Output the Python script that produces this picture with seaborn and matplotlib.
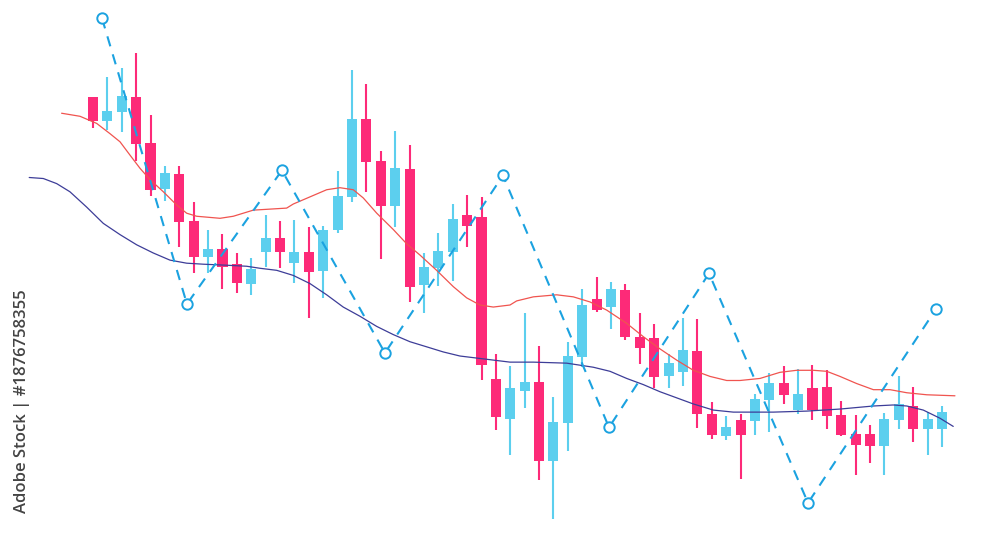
import numpy as np
import pandas as pd
import matplotlib
matplotlib.use("Agg")
import matplotlib.pyplot as plt
import seaborn as sns

# candle data (60 sessions)
opens = [505, 481, 490, 505, 460, 415, 429, 383, 348, 356, 341, 322, 353, 367, 342,
         353, 334, 375, 407, 483, 442, 398, 434, 321, 337, 353, 389, 387, 228, 189,
         217, 226, 148, 185, 250, 307, 299, 316, 270, 269, 231, 235, 256, 194, 173,
         188, 187, 208, 225, 198, 220, 221, 193, 175, 175, 163, 188, 202, 179, 179]
highs = [505, 525, 533, 548, 487, 437, 437, 402, 375, 371, 352, 347, 389, 383, 384,
         377, 378, 432, 531, 518, 452, 472, 458, 352, 372, 400, 409, 407, 253, 241,
         293, 261, 211, 265, 317, 328, 324, 322, 293, 282, 253, 288, 287, 206, 192,
         194, 214, 234, 241, 238, 242, 237, 207, 193, 183, 195, 231, 221, 196, 202]
lows = [475, 473, 471, 442, 408, 403, 358, 332, 332, 317, 313, 311, 338, 337, 323,
        288, 308, 372, 402, 412, 346, 377, 304, 293, 320, 325, 358, 227, 178, 154,
        200, 129, 91, 158, 240, 294, 277, 267, 243, 220, 220, 222, 180, 170, 169,
        130, 174, 177, 204, 194, 188, 179, 173, 134, 146, 134, 179, 167, 154, 162]
closes = [481, 491, 506, 459, 414, 430, 382, 348, 356, 338, 323, 336, 367, 353, 353,
          333, 375, 408, 483, 441, 398, 435, 319, 338, 354, 385, 378, 242, 191, 220,
          226, 148, 186, 251, 301, 296, 317, 270, 259, 230, 244, 257, 194, 174, 181,
          174, 209, 225, 213, 214, 198, 192, 174, 164, 163, 189, 204, 179, 189, 196]

# fast moving average (red)
ma_fast_x = [-2.18, -0.90, 0.26, 1.18, 1.88, 2.57, 3.27, 3.96, 4.89, 5.82, 6.51, 7.21,
             8.83, 9.75, 11.14, 12.30, 13.46, 13.92, 15.08, 16.24, 17.16, 18.09, 18.78,
             19.72, 20.87, 21.80, 22.72, 23.88, 25.04, 25.97, 26.89, 27.82, 28.98,
             29.44, 30.60, 32.22, 33.38, 34.54, 35.70, 37.09, 38.24, 39.40, 40.56,
             41.72, 42.88, 44.04, 44.96, 46.35, 47.74, 48.90, 50.06, 50.99, 51.91,
             53.07, 54.23, 55.39, 56.55, 57.94, 59.90]
ma_fast_y = [489, 486, 479, 469, 461, 448, 435, 424, 412, 399, 391, 388,
             386, 388, 394, 395, 396, 400, 407, 414, 416, 414, 406,
             391, 375, 361, 350, 335, 319, 308, 301, 299, 301,
             305, 309, 311, 309, 304, 296, 283, 270, 258, 247,
             237, 231, 227, 227, 229, 235, 237, 237, 236, 231,
             224, 218, 218, 215, 213, 212]

# slow moving average (navy)
ma_slow_x = [-4.43, -3.45, -2.52, -1.60, -0.44, 0.72, 1.88, 3.04, 4.19, 5.35, 6.51,
             7.67, 9.29, 10.68, 11.61, 12.77, 13.92, 15.08, 16.24, 17.39, 18.55,
             19.72, 20.87, 22.03, 23.19, 24.34, 25.50, 26.66, 27.82, 28.98, 30.60,
             32.92, 34.77, 35.93, 37.09, 38.24, 39.40, 40.56, 41.72, 43.11, 44.50,
             45.66, 47.28, 49.60, 51.91, 54.23, 55.61, 56.55, 57.70, 58.86, 59.78]
ma_slow_y = [426, 425, 420, 412, 397, 381, 370, 360, 352, 345, 342,
             341, 340, 339, 337, 335, 330, 322, 311, 299, 290,
             280, 272, 265, 260, 255, 251, 249, 247, 245, 245,
             244, 240, 236, 229, 223, 216, 210, 204, 198, 196,
             196, 196, 197, 199, 202, 203, 202, 198, 190, 182]

# zigzag swing points
zz_x = [0.63, 6.53, 13.13, 20.29, 28.49, 35.86, 42.81, 49.69, 58.58]
zz_y = [582, 302, 433, 254, 428, 181, 332, 107, 297]

RED = "#fd2a78"
BLUE = "#5ccfee"

df = pd.DataFrame({"open": opens, "high": highs, "low": lows, "close": closes})
df["x"] = np.arange(len(df))
df["color"] = np.where(df["close"] >= df["open"], BLUE, RED)

sns.set_theme(style="white")
fig = plt.figure(figsize=(10, 5.33), dpi=100)
ax = fig.add_axes([0, 0, 1, 1])

ax.vlines(df["x"], df["low"], df["high"], colors=df["color"], linewidth=1.5, zorder=2)
ax.bar(df["x"], df["close"] - df["open"], bottom=df["open"], width=0.7,
       color=df["color"], linewidth=0, zorder=3)

sns.lineplot(x=ma_fast_x, y=ma_fast_y, ax=ax, color="#f0544f", linewidth=0.9, zorder=4)
sns.lineplot(x=ma_slow_x, y=ma_slow_y, ax=ax, color="#3d3d98", linewidth=0.9, zorder=4)

ax.plot(zz_x, zz_y, color="#1ba2e0", linewidth=1.5, dashes=(5, 4), zorder=5)
ax.plot(zz_x, zz_y, linestyle="none", marker="o", markersize=7.5,
        markerfacecolor="white", markeredgecolor="#1ba2e0", markeredgewidth=1.4, zorder=6)

ax.set_xlim(-6.46, 63.03)
ax.set_ylim(77.5, 600)
ax.axis("off")

fig.text(0.022, 0.248, "Adobe Stock | #1876758355", rotation=90, ha="center", va="center",
         fontsize=12, color="#444444", family=["Open Sans", "DejaVu Sans"], fontweight="semibold")

fig.savefig("out.png", dpi=100, facecolor="white")
